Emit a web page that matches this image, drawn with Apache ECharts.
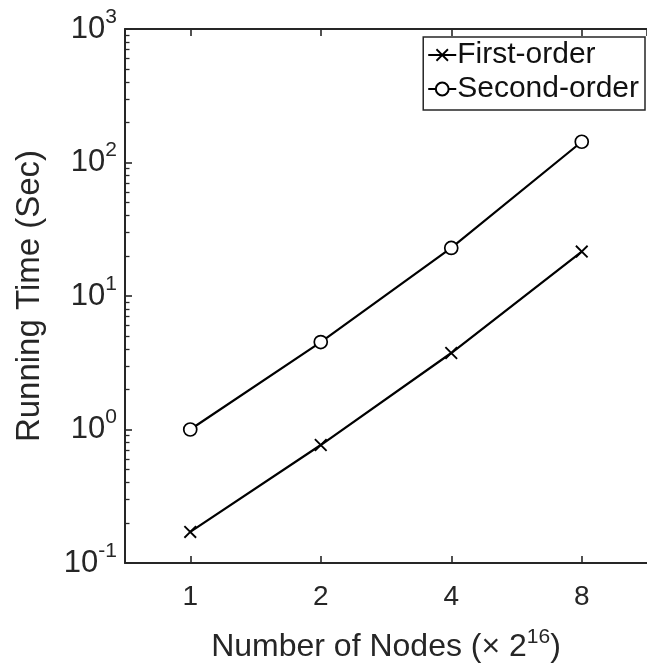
<!DOCTYPE html>
<html>
<head>
<meta charset="utf-8">
<script src="https://cdn.jsdelivr.net/npm/echarts@6/dist/echarts.min.js"></script>
<style>
html,body{margin:0;padding:0;background:#fff;}
#chart{width:647px;height:669px;}
</style>
</head>
<body>
<div id="chart"></div>
<script>
// Data
const nodes = [1, 2, 4, 8];
const firstOrder = [0.171, 0.765, 3.74, 21.5];
const secondOrder = [1.0, 4.52, 22.9, 143];
const seriesNames = ['First-order', 'Second-order'];
const xTitle = 'Number of Nodes (× 2';
const xTitleExp = '16';
const yTitle = 'Running Time (Sec)';

const AX = '#262626';
const FONT = 'Liberation Sans';
const crossPath = 'path://M0,1L1,0L10,9L9,10Z M1,10L0,9L9,0L10,1Z';

const chart = echarts.init(document.getElementById('chart'), null, {renderer: 'canvas'});

const xCommon = {
  type: 'log',
  logBase: 2,
  min: Math.SQRT1_2,
  max: 8 * Math.SQRT2,
  splitLine: {show: false},
  axisLine: {show: true, lineStyle: {color: AX, width: 2}},
  axisTick: {show: true, inside: true, length: 7, lineStyle: {color: AX, width: 1.6}}
};

const option = {
  backgroundColor: '#fff',
  animation: false,
  textStyle: {fontFamily: FONT},
  grid: {left: 125, right: -9, top: 29, bottom: 106, containLabel: false},
  legend: {
    orient: 'vertical',
    right: 2,
    top: 37,
    data: seriesNames,
    backgroundColor: '#fff',
    borderColor: AX,
    borderWidth: 1.5,
    borderRadius: 0,
    padding: [3, 6, 6, 4],
    itemGap: 4,
    itemWidth: 28,
    itemHeight: 16,
    textStyle: {fontSize: 30, color: '#111', fontFamily: FONT, padding: [0, 0, 0, -4]}
  },
  xAxis: [
    Object.assign({}, xCommon, {
      position: 'bottom',
      name: '{t|' + xTitle + '}{s|' + xTitleExp + '}{t|)}',
      nameLocation: 'middle',
      nameGap: 64,
      nameTextStyle: {
        rich: {
          t: {fontSize: 32, color: AX, fontFamily: FONT},
          s: {fontSize: 21, color: AX, fontFamily: FONT, padding: [0, 0, 20, 0]}
        }
      },
      axisLabel: {
        show: true, margin: 20, fontSize: 28, color: AX, fontFamily: FONT,
        showMinLabel: false, showMaxLabel: false,
        formatter: function (v) { return String(Math.round(v)); }
      }
    }),
    Object.assign({}, xCommon, {
      position: 'top',
      axisLabel: {show: false}
    })
  ],
  yAxis: {
    type: 'log',
    logBase: 10,
    min: 0.1,
    max: 1000,
    name: yTitle,
    nameLocation: 'middle',
    nameGap: 79,
    nameTextStyle: {fontSize: 33, color: AX, fontFamily: FONT},
    splitLine: {show: false},
    axisLine: {show: true, lineStyle: {color: AX, width: 2}},
    axisTick: {show: true, inside: true, length: 7, lineStyle: {color: AX, width: 1.6}},
    minorTick: {show: true, splitNumber: 9, length: 4.5, lineStyle: {color: AX, width: 1.3}},
    axisLabel: {
      margin: 8,
      color: AX,
      formatter: function (v) {
        const e = Math.round(Math.log10(v));
        return '{b|10}{s|' + e + '}';
      },
      rich: {
        b: {fontSize: 31, color: AX, fontFamily: FONT},
        s: {fontSize: 21, color: AX, fontFamily: FONT, padding: [0, 0, 24, 0]}
      }
    }
  },
  series: [
    {
      name: seriesNames[0],
      type: 'line',
      xAxisIndex: 0,
      data: nodes.map(function (n, i) { return [n, firstOrder[i]]; }),
      symbol: crossPath,
      symbolSize: 13,
      showSymbol: true,
      lineStyle: {color: '#000', width: 2.2},
      itemStyle: {color: '#000', borderWidth: 0}
    },
    {
      name: seriesNames[1],
      type: 'line',
      xAxisIndex: 0,
      data: nodes.map(function (n, i) { return [n, secondOrder[i]]; }),
      symbol: 'circle',
      symbolSize: 13,
      showSymbol: true,
      lineStyle: {color: '#000', width: 2.2},
      itemStyle: {color: '#fff', borderColor: '#000', borderWidth: 1.7}
    }
  ]
};

chart.setOption(option);
</script>
</body>
</html>
